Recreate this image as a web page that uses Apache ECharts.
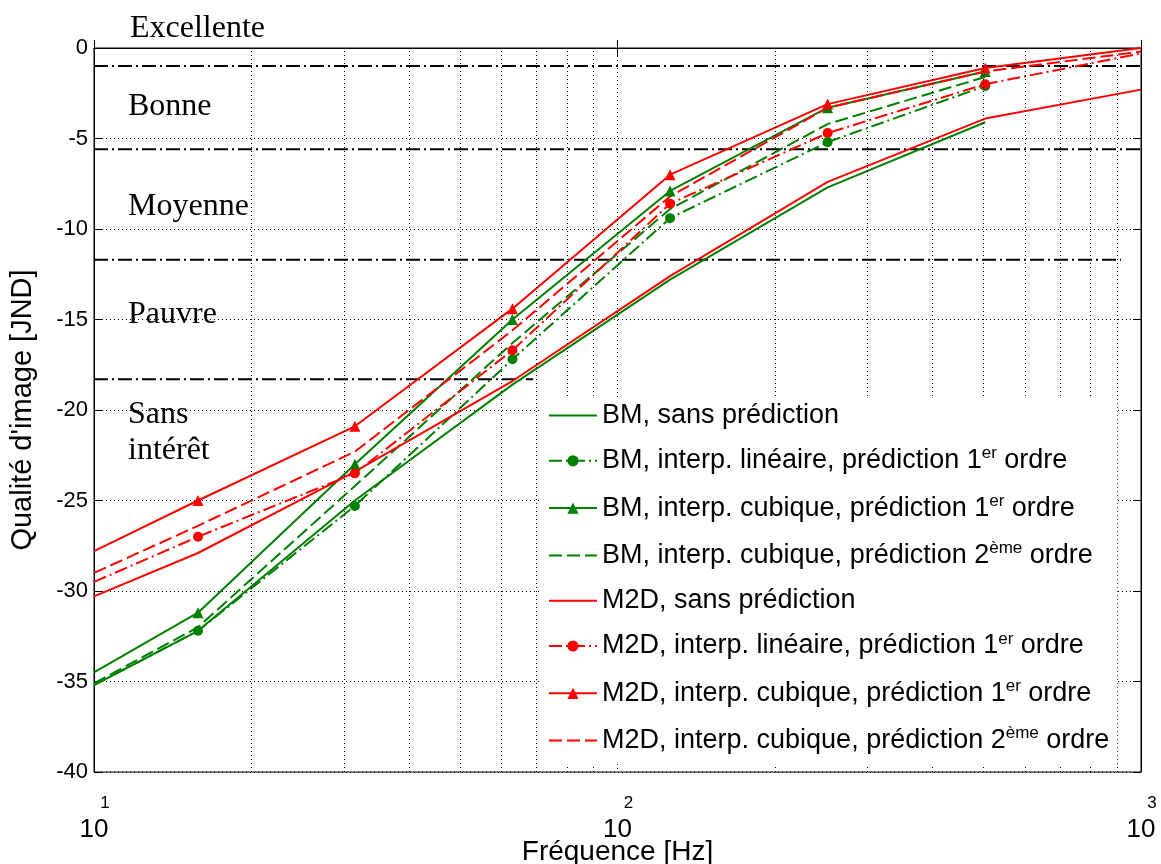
<!DOCTYPE html>
<html>
<head>
<meta charset="utf-8">
<script src="https://cdn.jsdelivr.net/npm/echarts@6/dist/echarts.min.js"></script>
<style>
html,body{margin:0;padding:0;background:#fff;}
#chart{width:1161px;height:864px;}
</style>
</head>
<body>
<div id="chart"></div>
<script>
// ---- data ----
const freqBM  = [10, 15.8, 31.5, 63, 126, 252, 504];
const freqM2D = [10, 15.8, 31.5, 63, 126, 252, 504, 1000];

const bmSans  = [-35.2, -32.2, -25.0, -18.6, -12.8, -7.7, -4.1];
const bmLin   = [-35.2, -32.2, -25.3, -17.2, -9.4, -5.2, -2.1];
const bmCub1  = [-34.5, -31.2, -23.0, -15.0, -7.9, -3.3, -1.3];
const bmCub2  = [-35.1, -32.0, -24.2, -16.3, -8.9, -4.2, -1.6];

const m2dSans = [-30.3, -27.9, -23.4, -18.4, -12.6, -7.4, -3.9, -2.3];
const m2dLin  = [-29.5, -27.0, -23.5, -16.7, -8.6, -4.7, -2.0, -0.3];
const m2dCub1 = [-27.8, -25.0, -20.9, -14.4, -7.0, -3.1, -1.1, 0.0];
const m2dCub2 = [-29.0, -26.4, -22.3, -15.6, -8.2, -3.3, -1.3, -0.2];

// legend labels: [text, superscript, tail]
const labelParts = [
  ['BM, sans prédiction', '', ''],
  ['BM, interp. linéaire, prédiction 1', 'er', ' ordre'],
  ['BM, interp. cubique, prédiction 1', 'er', ' ordre'],
  ['BM, interp. cubique, prédiction 2', 'ème', ' ordre'],
  ['M2D, sans prédiction', '', ''],
  ['M2D, interp. linéaire, prédiction 1', 'er', ' ordre'],
  ['M2D, interp. cubique, prédiction 1', 'er', ' ordre'],
  ['M2D, interp. cubique, prédiction 2', 'ème', ' ordre']
];
const seriesNames = labelParts.map(p => p.join(''));
const seriesMarkers = [null, 'circle', 'triangle', null, null, 'circle', 'triangle', null];

// quality scale boundaries and labels
const qualityBounds = [-1.0, -5.6, -11.7, -18.3];
const boundEndFreq  = [1091, 1000, 916, 69];
const qualityLabels = ['Excellente', 'Bonne', 'Moyenne', 'Pauvre', 'Sans\nintérêt'];

// grid frequencies (minor decades)
const minorFreqs = [20,30,40,50,60,70,80,90,200,300,400,500,600,700,800,900];

// ---- styles ----
const GREEN = '#008000', RED = '#ff0000';
const DASH = [13, 5];
const DASHDOT = [13, 4, 2, 4];
const SANS = "'Liberation Sans', Arial, sans-serif";
const SERIF = "'Liberation Serif', 'Times New Roman', serif";

function mk(xs, ys, withSym) {
  return ys.map((y, i) => {
    const it = { value: [xs[i], y] };
    if (withSym && (xs[i] === 10 || xs[i] === 1000)) it.symbol = 'none';
    return it;
  });
}

function lineSeries(idx, xs, ys, color, type, symSize) {
  const symbol = seriesMarkers[idx];
  return {
    name: seriesNames[idx],
    type: 'line',
    data: mk(xs, ys, !!symbol),
    symbol: symbol || 'circle',
    showSymbol: !!symbol,
    symbolSize: symSize || 10,
    color: color,
    itemStyle: { color: color },
    lineStyle: { color: color, width: 2, type: type },
    emphasis: { disabled: true },
    animation: false,
    z: 3
  };
}

const series = [
  lineSeries(0, freqBM, bmSans, GREEN, 'solid'),
  lineSeries(1, freqBM, bmLin, GREEN, DASHDOT, 10),
  lineSeries(2, freqBM, bmCub1, GREEN, 'solid', 11),
  lineSeries(3, freqBM, bmCub2, GREEN, DASH),
  lineSeries(4, freqM2D, m2dSans, RED, 'solid'),
  lineSeries(5, freqM2D, m2dLin, RED, DASHDOT, 10),
  lineSeries(6, freqM2D, m2dCub1, RED, 'solid', 11),
  lineSeries(7, freqM2D, m2dCub2, RED, DASH)
];

// vertical minor grid via markLine on a helper series
series.unshift({
  type: 'line', data: [], silent: true, animation: false, z: 1,
  markLine: {
    silent: true, symbol: 'none', animation: false,
    label: { show: false },
    lineStyle: { color: '#000', width: 1, type: [1, 3] },
    data: minorFreqs.map(f => ({ xAxis: f }))
  }
});

// quality boundaries
qualityBounds.forEach((b, i) => {
  series.push({
    type: 'line', silent: true, animation: false, clip: false, z: 2,
    data: [[10, b], [boundEndFreq[i], b]],
    symbol: 'none',
    lineStyle: { color: '#000', width: 2, type: [14, 4, 2, 4] }
  });
});

const chart = echarts.init(document.getElementById('chart'), null, { renderer: 'canvas' });

const option = {
  backgroundColor: '#fff',
  animation: false,
  grid: { left: 94, right: 20, top: 48, bottom: 92, show: true, borderColor: '#000', borderWidth: 1, backgroundColor: 'transparent', outerBoundsMode: 'none', containLabel: false },
  xAxis: [{
    type: 'log', logBase: 10, min: 10, max: 1000,
    position: 'bottom',
    name: 'Fréquence [Hz]', nameLocation: 'middle', nameGap: 66, nameMoveOverlap: false,
    nameTextStyle: { fontFamily: SANS, fontSize: 28, color: '#000' },
    axisLine: { lineStyle: { color: '#000', width: 1 } },
    axisTick: { inside: true, length: 8, lineStyle: { color: '#000' } },
    splitLine: { show: true, lineStyle: { color: '#000', width: 1, type: [1, 3] } },
    axisLabel: {
      margin: 18, color: '#000',
      formatter: function (v) { return '{e|' + Math.round(Math.log10(v)) + '}\n{b|10}'; },
      rich: {
        e: { fontFamily: SANS, fontSize: 17, lineHeight: 26, padding: [0, 0, 0, 22], color: '#000' },
        b: { fontFamily: SANS, fontSize: 26, lineHeight: 28, color: '#000' }
      }
    }
  }, {
    type: 'log', logBase: 10, min: 10, max: 1000, position: 'top',
    axisLine: { lineStyle: { color: '#000' } },
    axisTick: { inside: true, length: 8, lineStyle: { color: '#000' } },
    axisLabel: { show: false }, splitLine: { show: false }
  }],
  yAxis: [{
    type: 'value', min: -40, max: 0, interval: 5,
    name: "Qualité d'image [JND]", nameLocation: 'middle', nameGap: 57, nameMoveOverlap: false,
    nameTextStyle: { fontFamily: SANS, fontSize: 29, color: '#000' },
    axisLine: { show: true, lineStyle: { color: '#000' } },
    axisTick: { inside: true, length: 8, lineStyle: { color: '#000' } },
    axisLabel: { color: '#000', fontFamily: SANS, fontSize: 22, margin: 6 },
    splitLine: { show: true, lineStyle: { color: '#000', width: 1, type: [1, 3] } }
  }, {
    type: 'value', min: -40, max: 0, interval: 5, position: 'right',
    axisLine: { show: true, lineStyle: { color: '#000' } },
    axisTick: { inside: true, length: 8, lineStyle: { color: '#000' } },
    axisLabel: { show: false }, splitLine: { show: false }
  }],
  legend: {
    orient: 'vertical', left: 542, top: 398,
    data: seriesNames.map((n, i) => seriesMarkers[i]
      ? { name: n }
      : { name: n, itemStyle: { opacity: 0 } }),
    backgroundColor: '#fff', borderWidth: 0,
    padding: [4, 8, 8, 6],
    itemWidth: 48, itemHeight: 14, itemGap: 16.3,
    selectedMode: false,
    textStyle: {
      color: '#000',
      rich: {
        t: { fontFamily: SANS, fontSize: 27, color: '#000', lineHeight: 30 },
        s: { fontFamily: SANS, fontSize: 17, color: '#000', lineHeight: 17, padding: [0, 0, 14, 0] }
      }
    },
    formatter: function (name) {
      const i = seriesNames.indexOf(name);
      const p = labelParts[i];
      if (!p[1]) return '{t|' + p[0] + '}';
      return '{t|' + p[0] + '}{s|' + p[1] + '}{t|' + p[2] + '}';
    },
    z: 10
  },
  graphic: [
    { type: 'text', left: 130, top: 13, style: { text: qualityLabels[0], font: '32px ' + SERIF, fill: '#000' } },
    { type: 'text', left: 128, top: 91, style: { text: qualityLabels[1], font: '32px ' + SERIF, fill: '#000' } },
    { type: 'text', left: 128, top: 191, style: { text: qualityLabels[2], font: '32px ' + SERIF, fill: '#000' } },
    { type: 'text', left: 128, top: 299, style: { text: qualityLabels[3], font: '32px ' + SERIF, fill: '#000' } },
    { type: 'text', left: 128, top: 397, style: { text: qualityLabels[4], font: '32px ' + SERIF, fill: '#000', lineHeight: 36 } }
  ],
  series: series
};
chart.setOption(option);
</script>
</body>
</html>
